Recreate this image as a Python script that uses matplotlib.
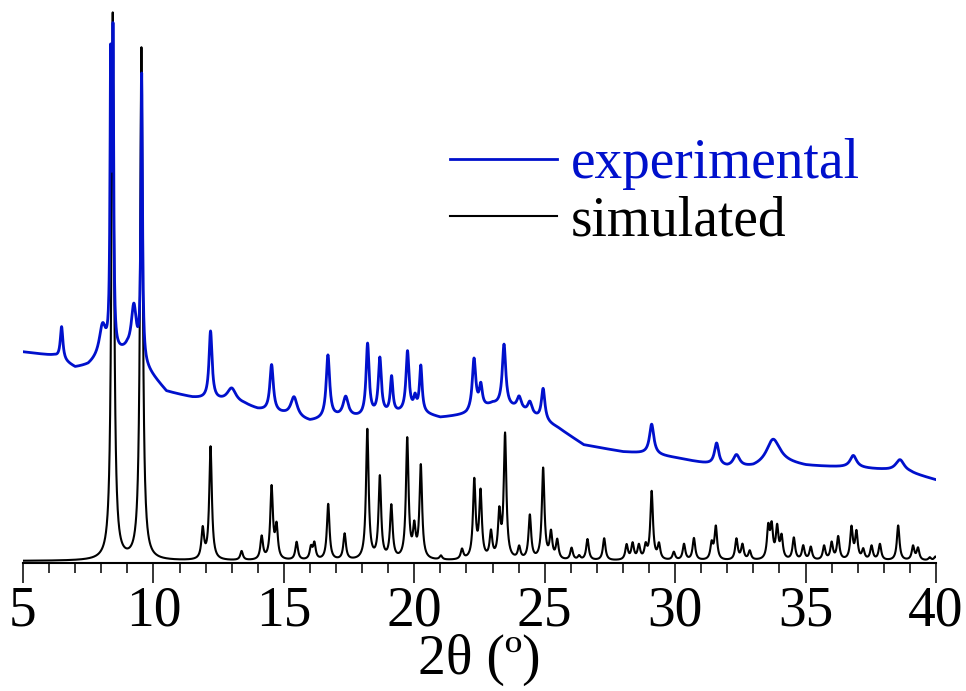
import numpy as np
import matplotlib
matplotlib.use("Agg")
import matplotlib.pyplot as plt

# Пики рассчитанной дифрактограммы: положение 2θ и интенсивность
sim_pos = [8.44, 9.54, 11.89, 12.19, 13.38, 14.15, 14.53, 14.72, 15.49, 16.04,
           16.17, 16.70, 17.33, 18.20, 18.68, 19.12, 19.73, 20.00, 20.25, 21.02,
           21.83, 22.30, 22.54, 22.94, 23.26, 23.48, 24.02, 24.43, 24.94, 25.24,
           25.48, 26.03, 26.32, 26.64, 27.28, 28.14, 28.37, 28.61, 28.87, 29.10,
           29.38, 29.95, 30.34, 30.72, 31.40, 31.56, 32.35, 32.58, 32.86, 33.57,
           33.70, 33.91, 34.08, 34.55, 34.91, 35.20, 35.71, 36.00, 36.25, 36.76,
           36.95, 37.21, 37.53, 37.85, 38.55, 39.12, 39.31, 39.76, 39.98]
sim_int = [547, 512, 30, 113, 9, 23, 72, 32, 18, 12,
           16, 56, 26, 130, 82, 53, 120, 29, 93, 4,
           10, 78, 66, 26, 44, 124, 12, 44, 91, 26,
           19, 12, 4, 21, 22, 15, 16, 14, 13, 68,
           15, 8, 16, 22, 16, 33, 21, 15, 9, 31,
           31, 31, 22, 22, 14, 13, 14, 17, 23, 32,
           27, 10, 14, 16, 35, 14, 12, 3, 4]

# Экспериментальная дифрактограмма: фон и пики
bg_x = [5.0, 6.2, 7.0, 7.5, 8.0, 9.0, 9.8, 10.5, 11.5, 12.8, 13.5, 14.0, 15.0,
        16.0, 17.0, 18.0, 19.0, 20.0, 21.0, 22.0, 23.0, 24.0, 25.5, 26.5, 28.0,
        29.0, 30.0, 31.0, 32.0, 33.0, 34.0, 35.0, 36.0, 37.0, 38.0, 39.0, 40.0]
bg_y = [211, 207, 195, 197, 205, 211, 191, 171, 165, 161, 158, 153, 148,
        141, 145, 145, 148, 151, 145, 148, 158, 153, 135, 118, 111,
        109, 105, 100, 95, 95, 101, 97, 96, 95, 93, 90, 83]

exp_pos = [6.48, 8.05, 8.36, 8.45, 9.25, 9.55, 12.19, 13.0, 14.53, 15.39,
           16.69, 17.37, 18.21, 18.68, 19.13, 19.74, 20.03, 20.25, 22.29, 22.55,
           23.44, 24.02, 24.43, 24.94, 29.10, 31.59, 32.35, 33.75, 36.83, 38.62]
exp_int = [33, 30, 275, 300, 50, 285, 68, 14, 47, 20,
           63, 20, 72, 56, 36, 60, 12, 46, 52, 22,
           62, 12, 12, 32, 30, 22, 12, 24, 12, 12]
exp_wid = [0.06, 0.15, 0.03, 0.03, 0.12, 0.035, 0.07, 0.2, 0.08, 0.15,
           0.08, 0.12, 0.07, 0.07, 0.06, 0.07, 0.06, 0.06, 0.08, 0.07,
           0.08, 0.1, 0.1, 0.08, 0.1, 0.1, 0.15, 0.3, 0.15, 0.2]

x = np.linspace(5, 40, 3501)


def lorentz(pos, amp, gam):
    y = np.zeros_like(x)
    for p, a, g in zip(pos, amp, gam):
        y += a * g ** 2 / ((x - p) ** 2 + g ** 2)
    return y


y_sim = 2 + lorentz(sim_pos, sim_int, [0.06] * len(sim_pos))
y_exp = np.interp(x, bg_x, bg_y) + lorentz(exp_pos, exp_int, exp_wid)

plt.rcParams['font.family'] = ['Liberation Serif', 'DejaVu Serif']

fig = plt.figure(figsize=(9.66, 6.91), dpi=100)
ax = fig.add_axes([23 / 966, 128 / 691, 913 / 966, 563 / 691])

ax.plot(x, y_sim, color='black', lw=1.5, label='simulated', zorder=2)
ax.plot(x, y_exp, color='#0010cc', lw=2.0, label='experimental', zorder=3)

ax.set_xlim(5, 40)
ax.set_ylim(0, 563)

for s in ['top', 'right', 'left']:
    ax.spines[s].set_visible(False)
ax.spines['bottom'].set_linewidth(1.5)
ax.set_yticks([])
ax.set_xticks(range(5, 41, 5))
ax.set_xticks(range(5, 41), minor=True)
ax.tick_params(axis='x', which='major', length=14.4, width=1.1, labelsize=40, pad=2)
ax.tick_params(axis='x', which='minor', length=7.2, width=1.1)
ax.set_xlabel('2θ (º)', fontsize=40, labelpad=-3)

h, l = ax.get_legend_handles_labels()
leg = ax.legend(h[::-1], l[::-1], loc='upper left', bbox_to_anchor=(450 / 966, 1 - 138 / 691),
                bbox_transform=fig.transFigure, frameon=False, fontsize=40,
                handlelength=1.93, handletextpad=0.25, labelspacing=0.1,
                borderaxespad=0, borderpad=0)
leg.get_texts()[0].set_color('#0010cc')

fig.savefig('out.png', dpi=100)
